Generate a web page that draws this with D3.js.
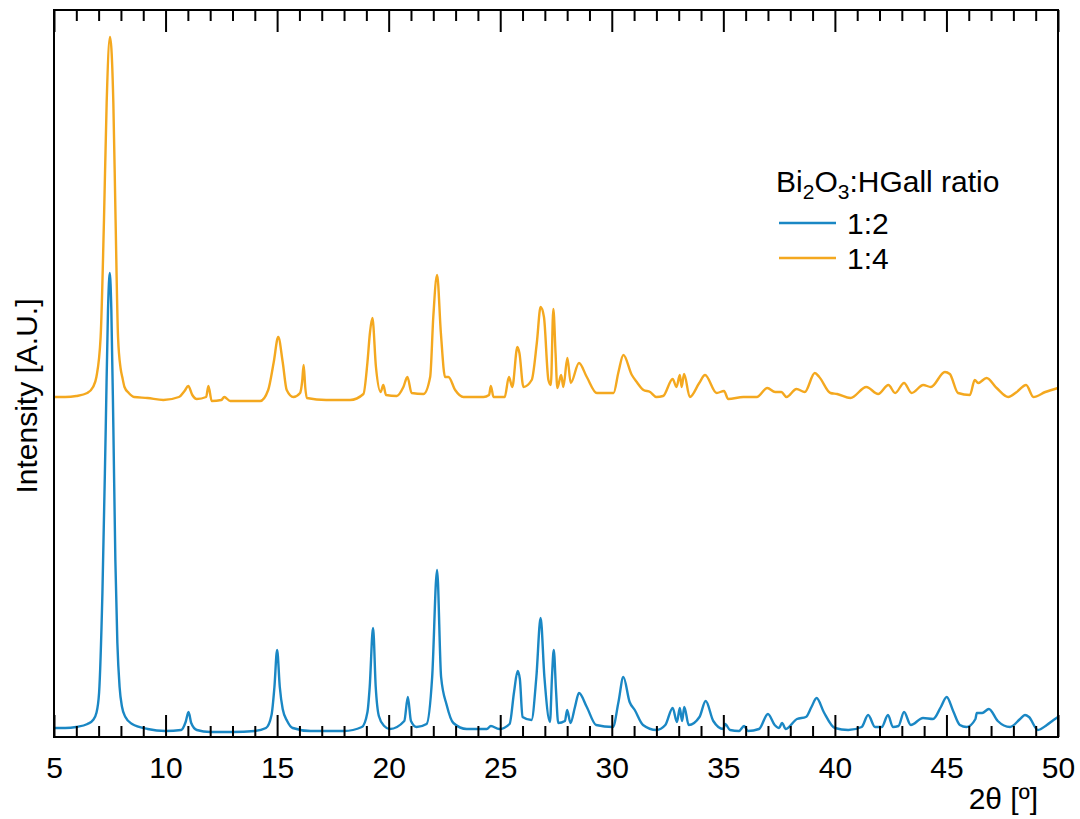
<!DOCTYPE html>
<html>
<head>
<meta charset="utf-8">
<script src="https://cdn.jsdelivr.net/npm/d3@7"></script>
<style>
body { margin: 0; background: #fff; }
text { font-family: Arial, "Liberation Sans", sans-serif; fill: #000; }
</style>
</head>
<body>
<svg id="chart" width="1080" height="819"></svg>
<script>
// 2theta (deg), intensity (a.u.)
var ratio12 = [
  [5.0, 9], [5.5, 9], [6.0, 10], [6.5, 13], [6.75, 17], [6.9, 24], [7.02, 44], [7.17, 144], [7.32, 310],
  [7.42, 427], [7.5, 464], [7.57, 427], [7.66, 310], [7.75, 177], [7.84, 94], [7.94, 50],
  [8.05, 30], [8.2, 20], [8.5, 13], [9.2, 8], [10.0, 6], [10.7, 7], [10.9, 15], [11.03, 25], [11.15, 14],
  [11.4, 7], [12.0, 5], [13.0, 5], [14.0, 6], [14.5, 9], [14.75, 22], [14.88, 50], [15.0, 87], [15.12, 50],
  [15.25, 28], [15.45, 16], [15.7, 9], [16.5, 6], [18.0, 6], [18.8, 10], [19.05, 25], [19.15, 50], [19.3, 109],
  [19.42, 50], [19.56, 21], [19.8, 11], [20.05, 8], [20.7, 16], [20.86, 40], [21.0, 16], [21.25, 10],
  [21.7, 13], [21.95, 60], [22.17, 167], [22.35, 60], [22.6, 32], [22.9, 14], [23.5, 8],
  [24.4, 8], [24.58, 11], [24.95, 8], [25.42, 13], [25.62, 45], [25.78, 66], [25.88, 58],
  [26.0, 20], [26.4, 17], [26.62, 60], [26.81, 119], [26.98, 60], [27.23, 15], [27.32, 60],
  [27.4, 87], [27.5, 47], [27.6, 14], [27.9, 16], [28.0, 27], [28.15, 14], [28.35, 30],
  [28.53, 44], [28.88, 30], [29.3, 12], [30.05, 10], [30.3, 35], [30.52, 60], [30.8, 35],
  [31.03, 27], [31.4, 12], [32.0, 7], [32.4, 12], [32.73, 29], [32.92, 15], [33.05, 29],
  [33.15, 16], [33.25, 30], [33.45, 12], [33.93, 20], [34.21, 36], [34.55, 16], [35.0, 8],
  [35.08, 13], [35.3, 7], [35.7, 6], [35.93, 11], [36.1, 6], [36.6, 8], [37.0, 23], [37.3, 12],
  [37.5, 9], [37.63, 14], [37.8, 8], [38.3, 18], [38.7, 20], [38.95, 30], [39.18, 39],
  [39.5, 25], [40.0, 9], [40.6, 7], [41.2, 10], [41.49, 22], [41.8, 10], [42.1, 10],
  [42.38, 22], [42.6, 10], [42.85, 11], [43.1, 25], [43.4, 12], [43.95, 19], [44.4, 18],
  [44.75, 30], [45.01, 40], [45.3, 26], [45.6, 12], [45.9, 10], [46.3, 18], [46.36, 24],
  [46.6, 24], [46.9, 28], [47.3, 16], [47.85, 10], [48.3, 18], [48.52, 22], [48.7, 20],
  [49.1, 7], [49.5, 12], [49.8, 17], [50.0, 20]
];
var ratio14 = [
  [5.0, 340], [5.5, 340], [6.0, 341], [6.49, 344], [6.75, 350], [6.9, 360], [7.09, 400], [7.24, 517],
  [7.36, 634], [7.51, 700], [7.66, 634], [7.76, 517], [7.87, 400], [7.99, 368], [8.06, 360],
  [8.16, 350], [8.35, 344], [8.59, 340], [9.19, 339], [9.9, 337], [10.6, 340], [10.85, 346], [11.02, 351],
  [11.2, 342], [11.4, 338], [11.82, 340], [11.92, 351], [12.07, 336], [12.5, 337], [12.63, 340],
  [12.9, 336], [14.24, 336], [14.6, 347], [14.85, 375], [15.05, 400], [15.25, 375], [15.43, 347],
  [15.73, 340], [16.03, 344], [16.12, 355], [16.19, 372], [16.26, 350], [16.33, 339], [17.2, 337],
  [18.27, 337], [18.87, 343], [19.05, 375], [19.16, 404], [19.27, 419], [19.43, 370], [19.64, 345],
  [19.76, 352], [19.88, 342], [20.36, 341], [20.66, 350], [20.84, 360], [21.03, 344], [21.56, 343],
  [21.86, 360], [22.0, 420], [22.17, 462], [22.34, 404], [22.53, 360], [22.68, 360], [22.98, 347],
  [23.35, 340], [24.25, 340], [24.5, 342], [24.58, 351], [24.7, 340], [25.2, 340], [25.39, 360],
  [25.54, 350], [25.77, 390], [25.86, 384], [26.04, 350], [26.41, 357], [26.64, 394], [26.81, 430],
  [26.96, 420], [27.16, 357], [27.27, 352], [27.38, 428], [27.48, 384], [27.56, 349], [27.73, 362],
  [27.83, 350], [28.01, 379], [28.16, 354], [28.53, 374], [28.88, 360], [29.33, 344], [29.63, 344],
  [30.08, 344], [30.3, 365], [30.52, 382], [30.9, 362], [31.12, 355], [31.42, 347], [31.72, 345],
  [32.0, 340], [32.3, 341], [32.73, 358], [32.9, 350], [33.05, 362], [33.13, 350], [33.24, 363],
  [33.5, 340], [33.92, 354], [34.18, 362], [34.7, 344], [35.03, 346], [35.22, 338], [35.9, 340],
  [36.5, 340], [36.97, 349], [37.32, 345], [37.6, 345], [37.83, 340], [38.28, 348], [38.65, 345],
  [39.1, 364], [39.3, 360], [39.8, 344], [40.1, 343], [40.7, 339], [41.41, 350], [41.94, 343],
  [42.4, 352], [42.7, 344], [43.1, 354], [43.44, 344], [43.96, 352], [44.3, 350], [44.93, 365],
  [45.15, 363], [45.52, 344], [46.05, 342], [46.27, 357], [46.42, 354], [46.8, 359], [47.25, 349],
  [47.77, 340], [48.15, 345], [48.57, 352], [48.9, 340], [49.43, 345], [50.0, 349]
];
var xMajorTicks = [5, 10, 15, 20, 25, 30, 35, 40, 45, 50];
var xMinorTicks = d3.range(6, 50).filter(function (d) { return d % 5 != 0; });
var seriesNames = ["1:2", "1:4"];
var seriesColors = ["#1a87c4", "#f4a81f"];

var svg = d3.select("#chart"),
    plotLeft = 54, plotRight = 1058, plotTop = 10, plotBottom = 737;

var x = d3.scaleLinear().domain([5, 50]).range([plotLeft, plotRight]);
var y = d3.scaleLinear().domain([0, 727]).range([plotBottom, plotTop]);

var line = d3.line()
    .x(function (d) { return x(d[0]); })
    .y(function (d) { return y(d[1]); })
    .curve(d3.curveMonotoneX);

// draw the 1:4 trace first, 1:2 goes on top
[ratio14, ratio12].forEach(function (s, i) {
    svg.append("path")
        .datum(s)
        .attr("d", line)
        .attr("fill", "none")
        .attr("stroke", i == 0 ? seriesColors[1] : seriesColors[0])
        .attr("stroke-width", 2.4)
        .attr("stroke-linejoin", "round");
});

// ticks (inward) on bottom and top
function tickAxis(axis, ty, size, labels) {
    var g = svg.append("g").attr("transform", "translate(0," + ty + ")")
        .call(axis.tickSizeInner(size).tickSizeOuter(0).tickPadding(20));
    g.select(".domain").remove();
    g.selectAll("line").attr("stroke", "#000").attr("stroke-width", 2);
    g.selectAll("text").style("font-size", "30px").style("font-family", "Arial, 'Liberation Sans', sans-serif");
    if (!labels) g.selectAll("text").remove();
    return g;
}
tickAxis(d3.axisBottom(x).tickValues(xMajorTicks).tickFormat(d3.format("d")), plotBottom, -22, true);
tickAxis(d3.axisBottom(x).tickValues(xMinorTicks).tickFormat(""), plotBottom, -11, false);
tickAxis(d3.axisTop(x).tickValues(xMajorTicks).tickFormat(""), plotTop, -22, false);
tickAxis(d3.axisTop(x).tickValues(xMinorTicks).tickFormat(""), plotTop, -11, false);

svg.append("rect")
    .attr("x", plotLeft).attr("y", plotTop)
    .attr("width", plotRight - plotLeft).attr("height", plotBottom - plotTop)
    .attr("fill", "none").attr("stroke", "#000").attr("stroke-width", 2);

// axis titles
svg.append("text")
    .attr("x", 1038).attr("y", 809)
    .attr("text-anchor", "end")
    .style("font-size", "30px")
    .text("2θ [º]");

svg.append("text")
    .attr("transform", "translate(37,396) rotate(-90)")
    .attr("text-anchor", "middle")
    .style("font-size", "30px")
    .text("Intensity [A.U.]");

// legend
var legend = svg.append("g");
var title = legend.append("text").attr("x", 776).attr("y", 192).style("font-size", "30px");
title.append("tspan").text("Bi");
title.append("tspan").attr("dy", 7).style("font-size", "21px").text("2");
title.append("tspan").attr("dy", -7).text("O");
title.append("tspan").attr("dy", 7).style("font-size", "21px").text("3");
title.append("tspan").attr("dy", -7).text(":HGall ratio");

seriesNames.forEach(function (name, i) {
    var ly = 223 + i * 35;
    legend.append("line")
        .attr("x1", 779).attr("x2", 836)
        .attr("y1", ly).attr("y2", ly)
        .attr("stroke", seriesColors[i]).attr("stroke-width", 2.4);
    legend.append("text")
        .attr("x", 847).attr("y", ly + 11)
        .style("font-size", "30px")
        .text(name);
});
</script>
</body>
</html>
